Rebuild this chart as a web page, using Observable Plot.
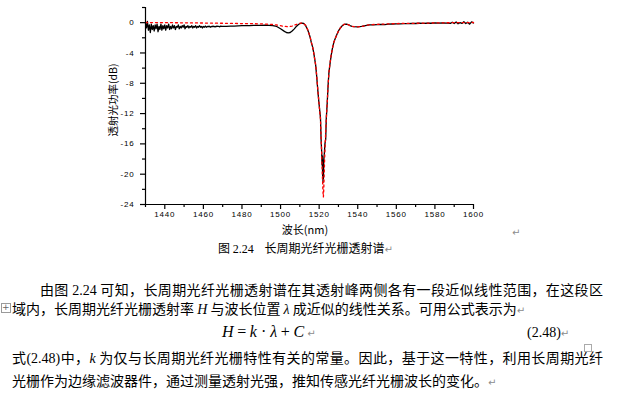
<!DOCTYPE html>
<html><head><meta charset="utf-8">
<script src="https://cdn.jsdelivr.net/npm/d3@7"></script>
<script src="https://cdn.jsdelivr.net/npm/@observablehq/plot@0.6"></script>
<style>
body{margin:0;background:#fff;}
#page{position:relative;width:620px;height:397px;overflow:hidden;font-family:"Noto Sans CJK SC","Noto Sans",sans-serif;color:#000;background:#fff;}
#chart{position:absolute;left:0;top:0;}
#chart svg text{letter-spacing:0.8px;}
.t{position:absolute;white-space:nowrap;line-height:1;}
.j{text-align:justify;text-align-last:justify;white-space:normal;}
.ret{color:#8c8c8c;font-size:10px;font-family:"DejaVu Sans",sans-serif;}
.lat{font-family:"Liberation Serif","Times New Roman",serif;}
.it{font-family:"Liberation Serif","Times New Roman",serif;font-style:italic;}
</style></head><body><div id="page"><div id="chart"></div></div>
<script>
// measured transmission spectrum (black) — wavelength (nm) and power (dB)
const blackWl = [
1430,1430.5,1431,1431.5,1432,1432.5,1433,1433.5,1434,1434.5,1435,1435.5,1436,1436.5,1437,1437.5,1438,1438.5,1439,1439.5,
1440,1440.5,1441,1441.5,1442,1442.5,1443,1443.5,1444,1444.5,1445,1445.5,1446,1446.5,1447,1447.5,1448,1448.5,1449,1449.5,
1450,1450.5,1451,1451.5,1452,1452.5,1453,1453.5,1454,1454.5,1455,1455.5,1456,1456.5,1457,1457.5,1458,1458.5,1459,1459.5,
1460,1460.5,1461,1461.5,1462,1462.5,1463,1463.5,1464,1464.5,1465,1465.5,1466,1466.5,1467,1467.5,1468,1468.5,1469,1469.5,
1470,1472,1474,1476,1478,1480,1482,1484,1486,1488,1490,1492,1494,1496,1498,1500,1502,1503,1504,1505,1506,1507,1508,1509,
1510,1511,1512,1513,1514,1514.7,1515.4,1516,1516.6,1517.2,1517.7,1518.2,1518.7,1519.1,1519.5,1519.9,1520.3,1520.7,
1521.0,1521.3,1521.5,1521.7,1521.8,1521.9,1522.0,1522.1,1522.2,1522.4,1522.7,1523.0,1523.4,1523.7,1524.0,1524.3,1524.7,
1525.1,1525.6,1526.2,1526.8,1527.6,1528.5,1529.3,1530.1,1531,1532,1533,1534,1535,1536,1537,1538,1540,1542,1544,1546,
1548,1550,1552,1554,1556,1558,1560,1562,1564,1566,1568,1570,1572,1574,1576,1578,1580,1582,1584,1586,1588,1589,1590,
1591,1592,1593,1594,1595,1596,1597,1598,1599,1600];
const blackDb = [
-0.05,-0.7,0.15,-1.0,-0.3,-1.3,-0.2,-0.9,-0.4,-1.1,-0.3,-0.8,-0.2,-1.2,-0.5,-0.9,-0.2,-1.0,-0.4,-0.8,
-0.3,-1.0,-0.4,-0.7,-0.2,-0.9,-0.5,-0.8,-0.3,-0.7,-0.4,-0.9,-0.5,-0.6,-0.3,-0.8,-0.5,-0.7,-0.4,-0.6,
-0.3,-0.8,-0.5,-0.6,-0.4,-0.7,-0.5,-0.6,-0.4,-0.7,-0.5,-0.6,-0.4,-0.7,-0.5,-0.6,-0.4,-0.6,-0.5,-0.7,
-0.5,-0.6,-0.45,-0.6,-0.5,-0.55,-0.45,-0.6,-0.5,-0.55,-0.45,-0.55,-0.5,-0.55,-0.45,-0.5,-0.5,-0.55,-0.45,-0.5,
-0.5,-0.48,-0.45,-0.45,-0.42,-0.4,-0.4,-0.38,-0.36,-0.35,-0.35,-0.33,-0.35,-0.38,-0.5,-0.8,-1.15,-1.3,-1.35,-1.3,-1.1,-0.85,-0.55,-0.3,
-0.12,-0.05,-0.1,-0.4,-0.9,-1.4,-2.0,-2.7,-3.2,-4.0,-4.8,-5.6,-7.0,-8.3,-9.5,-10.6,-11.6,-12.6,
-15.4,-17.0,-18.8,-17.6,-20.2,-18.4,-21.1,-19.0,-20.6,-18.2,-17.2,-16.0,-15.4,-12.6,-11.4,-10.0,-8.0,
-6.5,-5.5,-4.4,-3.5,-2.6,-2.0,-1.5,-1.05,-0.7,-0.4,-0.22,-0.18,-0.25,-0.4,-0.48,-0.52,-0.55,-0.5,-0.38,-0.28,
-0.3,-0.26,-0.24,-0.25,-0.2,-0.18,-0.15,-0.17,-0.13,-0.14,-0.1,-0.11,-0.08,-0.1,-0.06,-0.08,-0.04,-0.06,-0.02,-0.05,-0.1,0.05,-0.12,
0.08,-0.15,0.0,-0.1,0.12,-0.12,0.05,-0.2,0.1,-0.05];

// fitted curve (red dotted)
const fitWl = [
1430,1440,1450,1460,1470,1480,1488,1494,1498,1501,1504,1506,1508,1510,1511.5,1513,1514,1514.7,1515.4,1516,1516.6,
1517.2,1517.7,1518.2,1518.7,1519.1,1519.5,1519.9,1520.3,1520.7,1521.0,1521.3,1521.6,1521.9,1522.1,1522.2,1522.4,
1522.6,1522.9,1523.2,1523.6,1524.0,1524.3,1524.7,1525.1,1525.6,1526.2,1526.8,1527.6,1528.5,1529.3,1530.1,1531,1532,
1533,1534,1535,1536,1537,1538,1540,1542,1544,1546,1550,1560,1570,1580,1590,1600];
const fitDb = [
0.02,0.0,-0.02,-0.05,-0.08,-0.12,-0.15,-0.2,-0.3,-0.45,-0.55,-0.45,-0.25,-0.08,-0.05,-0.35,-0.9,-1.4,-2.0,-2.6,-3.2,
-4.0,-4.8,-5.6,-6.9,-8.2,-9.4,-10.6,-11.7,-12.8,-15.0,-17.2,-19.6,-21.8,-22.8,-23.0,-22.0,
-20.0,-17.5,-15.6,-13.2,-11.4,-10.0,-8.0,-6.5,-5.4,-4.3,-3.5,-2.6,-2.0,-1.5,-1.05,-0.7,-0.4,
-0.22,-0.18,-0.25,-0.4,-0.48,-0.52,-0.55,-0.5,-0.38,-0.28,-0.22,-0.12,-0.08,-0.04,0.0,0.02];

const xTicks = [1440,1460,1480,1500,1520,1540,1560,1580,1600];
const xMinor = [1430,1450,1470,1490,1510,1530,1550,1570,1590];
const yTicks = [0,-4,-8,-12,-16,-20,-24];
const yMinor = [2,-2,-6,-10,-14,-18,-22];

const black = blackWl.map((w, i) => ({w, v: blackDb[i]}));
const fit = fitWl.map((w, i) => ({w, v: fitDb[i]}));

const chart = Plot.plot({
  width: 620, height: 240,
  marginLeft: 145, marginRight: 147, marginTop: 7, marginBottom: 36,
  x: {domain: [1430, 1600]},
  y: {domain: [-24, 2]},
  style: {fontFamily: "'Liberation Sans', Arial, sans-serif", fontSize: "8px", background: "white", color: "black"},
  marks: [
    Plot.line(black, {x: "w", y: "v", stroke: "black", strokeWidth: 1.3}),
    Plot.line(fit, {x: "w", y: "v", stroke: "#ff0000", strokeWidth: 1.3, strokeDasharray: "2,3"}),
    Plot.ruleX([1430], {stroke: "black", strokeWidth: 1.2}),
    Plot.ruleY([-24], {stroke: "black", strokeWidth: 1.2}),
    Plot.axisX({ticks: xTicks, tickSize: 5, tickPadding: 1.5, label: null, tickFormat: d => String(d), strokeWidth: 1.2}),
    Plot.axisX({ticks: xMinor, tickSize: 3, label: null, tickFormat: () => "", strokeWidth: 1.2}),
    Plot.axisY({ticks: yTicks, tickSize: 5, tickPadding: 6, label: null, tickFormat: d => String(d), strokeWidth: 1.2}),
    Plot.axisY({ticks: yMinor, tickSize: 3, label: null, tickFormat: () => "", strokeWidth: 1.2})
  ]
});
document.getElementById("chart").append(chart);

const page = document.getElementById("page");
function add(html, style, cls) {
  const d = document.createElement("div");
  d.className = "t" + (cls ? " " + cls : "");
  d.innerHTML = html;
  Object.assign(d.style, style);
  page.append(d);
  return d;
}
// axis titles
add("透射光功率(dB)", {left: "113px", top: "100px", fontSize: "10.5px", transform: "translate(-50%,-50%) rotate(-90deg)"});
add("波长(nm)", {left: "305px", top: "229px", fontSize: "11px", transform: "translate(-50%,-50%)"});
add("↵", {left: "512px", top: "228px"}, "ret");
// caption
add('图 <span class="lat">2.24</span>&nbsp;&nbsp;&nbsp; 长周期光纤光栅透射谱<span class="ret">↵</span>', {left: "218px", top: "242px", fontSize: "12px"});
// body text
add('由图 <span class="lat">2.24</span> 可知，长周期光纤光栅透射谱在其透射峰两侧各有一段近似线性范围，在这段区',
    {left: "40px", top: "282px", width: "563px", fontSize: "14px"}, "j");
add('', {left: "1px", top: "303px", width: "8px", height: "8px", border: "1px solid #9a9a9a"});
add('+', {left: "2px", top: "303px", fontSize: "9px", color: "#666", fontFamily: "DejaVu Sans"});
add('域内，长周期光纤光栅透射率 <span class="it">H</span> 与波长位置 <span class="it">λ</span> 成近似的线性关系。可用公式表示为<span class="ret">↵</span>',
    {left: "12px", top: "301px", fontSize: "14px"});
add('<span class="it">H</span> <span class="lat">=</span> <span class="it">k</span><span class="lat"> · </span><span class="it">λ</span> <span class="lat">+</span> <span class="it">C</span><span class="ret"> ↵</span>',
    {left: "222px", top: "322px", fontSize: "16px"});
add('<span class="lat">(2.48)</span><span class="ret">↵</span>', {left: "527px", top: "324px", fontSize: "14px"});
add('式<span class="lat">(2.48)</span>中，<span class="it">k</span> 为仅与长周期光纤光栅特性有关的常量。因此，基于这一特性，利用长周期光纤',
    {left: "12px", top: "350px", width: "591px", fontSize: "14px"}, "j");
add('', {left: "584px", top: "344px", width: "6px", height: "6px", border: "1px solid #aaa"});
add('光栅作为边缘滤波器件，通过测量透射光强，推知传感光纤光栅波长的变化。<span class="ret">↵</span>',
    {left: "12px", top: "373px", fontSize: "14px"});
</script>
</body></html>
